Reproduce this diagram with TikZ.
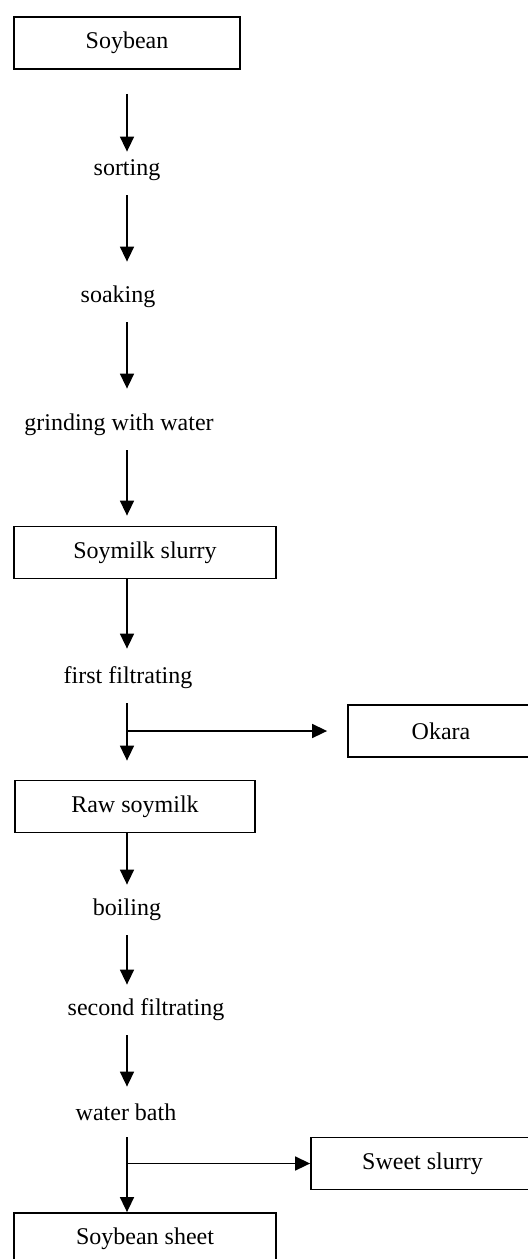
\documentclass[tikz,border=0pt]{standalone}
\usepackage{fontspec}
\setmainfont{Liberation Serif}
\usetikzlibrary{arrows.meta,calc}

\begin{document}
\begin{tikzpicture}[x=0.5pt,y=-0.5pt,
    box/.style={draw, rectangle, line width=0.9pt, inner sep=0pt, minimum height=26pt, font=\fontsize{12}{14}\selectfont},
    stage/.style={inner sep=0pt, minimum height=25pt, font=\fontsize{12}{14}\selectfont},
    flow/.style={-{Triangle[length=7.5pt,width=7pt]}, line width=0.8pt}]
\useasboundingbox (0,0) rectangle (528,1259);
\clip (0,0) rectangle (528,1259);
\coordinate (spine) at (127,0);

% Products
\node[box, minimum width=113pt] (soybean) at (127,43) {Soybean};
\node[box, minimum width=131pt] (slurry) at (145,552.5) {Soymilk slurry};
\node[box, minimum width=93pt] (okara) at (441,731) {Okara};
\node[box, minimum width=120pt] (raw) at (135,806.5) {Raw soymilk};
\node[box, minimum width=111.5pt] (sweet) at (422.5,1163.5) {Sweet slurry};
\node[box, minimum width=131pt] (sheet) at (145,1239) {Soybean sheet};

% Steps
\node[stage] (sorting) at (127,170) {sorting};
\node[stage] (soaking) at (118,297) {soaking};
\node[stage] (grinding) at (119,425) {grinding with water};
\node[stage] (first) at (128,678) {first filtrating};
\node[stage] (boiling) at (127,910) {boiling};
\node[stage] (second) at (146,1010) {second filtrating};
\node[stage] (bath) at (126,1112) {water bath};

% Main line
\draw[flow, shorten <=12pt, shorten >=-3.5pt] (soybean.south -| spine) -- (sorting.north -| spine);
\draw[flow, shorten >=5pt] (sorting.south -| spine) -- (soaking.north -| spine);
\draw[flow, shorten >=5.5pt] (soaking.south -| spine) -- (grinding.north -| spine);
\draw[flow, shorten >=5pt] (grinding.south -| spine) -- (slurry.north -| spine);
\draw[flow, shorten >=2pt] (slurry.south -| spine) -- (first.north -| spine);
\draw[flow, shorten >=9.5pt] (first.south -| spine) -- (raw.north -| spine);
\draw[flow] (raw.south -| spine) -- (boiling.north -| spine);
\draw[flow] (boiling.south -| spine) -- (second.north -| spine);
\draw[flow] (second.south -| spine) -- (bath.north -| spine);
\draw[flow] (bath.south -| spine) -- (sheet.north -| spine);

% Side outputs
\coordinate (okarajoin) at (spine |- okara.west);
\coordinate (sweetjoin) at (spine |- sweet.west);
\draw[flow, shorten >=10pt] (okarajoin) -- (okara.west);
\draw[flow] (sweetjoin) -- (sweet.west);
\end{tikzpicture}
\end{document}
